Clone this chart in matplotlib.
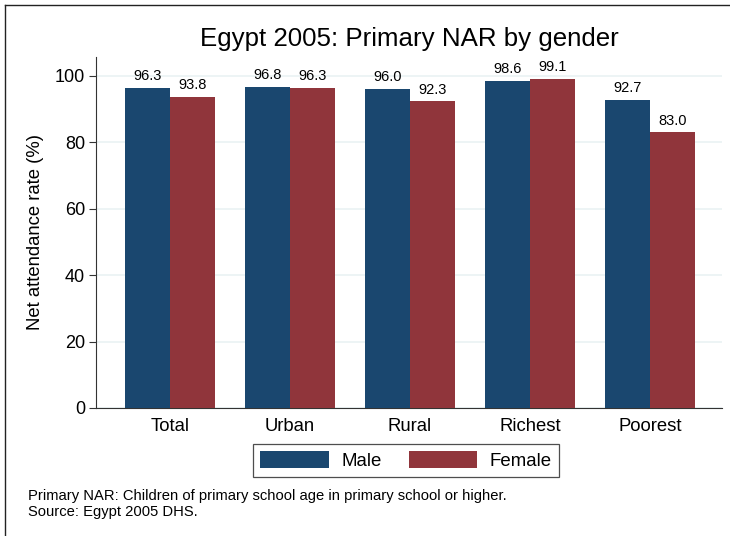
import matplotlib
matplotlib.use("Agg")
import matplotlib.pyplot as plt
import matplotlib.patches as mpatches
from matplotlib.lines import Line2D
import numpy as np

plt.rcParams["font.family"] = ["Liberation Sans", "DejaVu Sans"]

categories = ["Total", "Urban", "Rural", "Richest", "Poorest"]
male = [96.3, 96.8, 96.0, 98.6, 92.7]
female = [93.8, 96.3, 92.3, 99.1, 83.0]
yticks = [0, 20, 40, 60, 80, 100]

MALE_C = "#1a476f"
FEMALE_C = "#90353b"

W, H = 730, 536
fig = plt.figure(figsize=(W / 100, H / 100), dpi=100)
fig.patch.set_facecolor("white")

# axes box in pixels: left 96, right 722, top 57, bottom 408
ax = fig.add_axes([96 / W, 1 - 408 / H, (722 - 96) / W, (408 - 57) / H])

x = np.arange(len(categories))
bw = 0.375
b1 = ax.bar(x - bw / 2, male, bw, color=MALE_C, label="Male", zorder=3)
b2 = ax.bar(x + bw / 2, female, bw, color=FEMALE_C, label="Female", zorder=3)

for bars, vals in ((b1, male), (b2, female)):
    for rect, v in zip(bars, vals):
        ax.annotate(f"{v:.1f}", (rect.get_x() + rect.get_width() / 2, v),
                    xytext=(0, 3.5), textcoords="offset points",
                    ha="center", va="bottom", fontsize=10.5, color="black")

ax.set_xlim(-0.617, 4.6)
ax.set_ylim(0, 105.7)
ax.set_yticks(yticks)
ax.set_yticklabels([str(t) for t in yticks], fontsize=13)
ax.set_xticks(x)
ax.set_xticklabels(categories, fontsize=13.3)
ax.tick_params(axis="x", length=0, pad=7)
ax.tick_params(axis="y", length=5, width=0.8, color="#333333", pad=3)
ax.yaxis.grid(True, color="#eaf2f3", linewidth=1.2, zorder=0)
ax.set_axisbelow(True)
for s in ("top", "right"):
    ax.spines[s].set_visible(False)
ax.spines["left"].set_color("#333333")
ax.spines["bottom"].set_color("#333333")
ax.set_ylabel("Net attendance rate (%)", fontsize=13.3, labelpad=8)

fig.text(409 / W, 1 - 39 / H, "Egypt 2005: Primary NAR by gender",
         ha="center", va="center", fontsize=18.6)

handles = [mpatches.Patch(facecolor=MALE_C, label="Male"),
           mpatches.Patch(facecolor=FEMALE_C, label="Female")]
leg = fig.legend(handles=handles, loc="center", ncol=2,
                 bbox_to_anchor=(406 / W, 1 - 460.5 / H), fontsize=13.4,
                 frameon=True, fancybox=False, edgecolor="#222222",
                 handlelength=3.7, handleheight=1.0, columnspacing=1.45,
                 handletextpad=0.65, borderpad=0.4, borderaxespad=0)
leg.get_frame().set_linewidth(0.9)

fig.text(28 / W, 1 - 496 / H,
         "Primary NAR: Children of primary school age in primary school or higher.",
         ha="left", va="center", fontsize=10.6)
fig.text(28 / W, 1 - 512 / H, "Source: Egypt 2005 DHS.",
         ha="left", va="center", fontsize=10.6)

# outer frame lines at top and left
fig.add_artist(Line2D([5 / W, 1], [1 - 5 / H, 1 - 5 / H], color="#222222", lw=1))
fig.add_artist(Line2D([5 / W, 5 / W], [0, 1 - 5 / H], color="#222222", lw=1))

fig.savefig("out.png", dpi=100)
